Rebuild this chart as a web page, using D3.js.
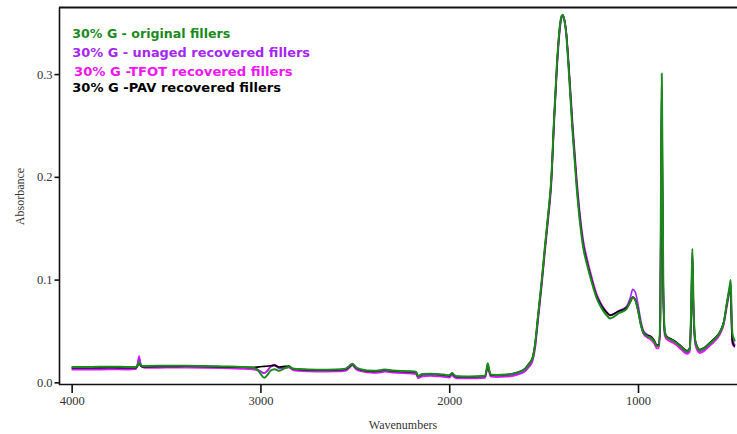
<!DOCTYPE html>
<html>
<head>
<meta charset="utf-8">
<script src="https://cdn.jsdelivr.net/npm/d3@7"></script>
<style>
  html, body { margin: 0; padding: 0; background: #fff; }
  svg { display: block; }
</style>
</head>
<body>
<svg id="chart" width="737" height="434"></svg>
<script>
// FTIR spectra of 30% G filler samples (absorbance vs wavenumber, cm-1)
const wavenumbers = [
  4000, 3900, 3800, 3700, 3660, 3650, 3643, 3636, 3625, 3600,
  3500, 3400, 3300, 3200, 3100, 3050, 3020, 3000, 2980, 2965,
  2945, 2925, 2900, 2870, 2850, 2830, 2800, 2700, 2600, 2550,
  2530, 2513, 2495, 2470, 2400, 2360, 2340, 2300, 2200, 2175,
  2165, 2140, 2100, 2060, 2030, 2000, 1985, 1975, 1960, 1900,
  1850, 1810, 1800, 1796, 1790, 1780, 1750, 1700, 1650, 1600,
  1580, 1560, 1545, 1530, 1510, 1493, 1475, 1460, 1445, 1430,
  1415, 1405, 1398, 1390, 1380, 1368, 1346, 1325, 1310, 1290,
  1269, 1245, 1219, 1200, 1184, 1160, 1148, 1130, 1100, 1080,
  1060, 1040, 1028, 1015, 1000, 985, 970, 950, 935, 915,
  900, 890, 882, 877, 874, 871, 866, 858, 849, 820,
  795, 770, 740, 726, 718, 712, 706, 695, 672, 650,
  620, 600, 566, 545, 530, 515, 509, 505, 500, 492,
  486
];

const originalFillers = [
  .0150, .0150, .0152, .0150, .0150, .0168, .0195, .0172, .0160, .0160,
  .0162, .0162, .0160, .0155, .0150, .0145, .0130, .0085, .0045, .0068,
  .0115, .0128, .0112, .0140, .0150, .0135, .0130, .0123, .0125, .0133,
  .0158, .0182, .0150, .0128, .0112, .0120, .0126, .0115, .0108, .0100,
  .0062, .0082, .0084, .0080, .0076, .0068, .0092, .0074, .0060, .0058,
  .0059, .0064, .0150, .0186, .0138, .0076, .0072, .0076, .0090, .0128,
  .0172, .0228, .0375, .0640, .0990, .1320, .1650, .1960, .2550, .3080,
  .3450, .3565, .3578, .3525, .3385, .3070, .2420, .1900, .1600, .1310,
  .1140, .0975, .0820, .0745, .0695, .0640, .0622, .0635, .0675, .0690,
  .0715, .0785, .0825, .0800, .0700, .0560, .0475, .0448, .0438, .0400,
  .0352, .0355, .0650, .2450, .3005, .2300, .0950, .0500, .0442, .0410,
  .0382, .0342, .0300, .0330, .0750, .1300, .0750, .0390, .0312, .0330,
  .0378, .0410, .0488, .0590, .0765, .0930, .0995, .0720, .0480, .0420,
  .0400
];

const unagedRecovered = [
  .0132, .0133, .0135, .0134, .0136, .0180, .0240, .0185, .0150, .0148,
  .0150, .0152, .0150, .0146, .0140, .0136, .0128, .0110, .0088, .0110,
  .0150, .0165, .0135, .0142, .0148, .0128, .0120, .0112, .0113, .0120,
  .0145, .0170, .0138, .0115, .0100, .0106, .0112, .0102, .0094, .0086,
  .0048, .0068, .0070, .0066, .0062, .0054, .0078, .0060, .0046, .0044,
  .0046, .0050, .0130, .0160, .0120, .0062, .0058, .0062, .0076, .0112,
  .0155, .0210, .0350, .0610, .0960, .1290, .1620, .1930, .2520, .3050,
  .3430, .3555, .3568, .3530, .3400, .3110, .2480, .1960, .1660, .1360,
  .1180, .1010, .0850, .0775, .0725, .0672, .0655, .0665, .0700, .0715,
  .0740, .0830, .0905, .0880, .0760, .0600, .0500, .0465, .0452, .0410,
  .0355, .0350, .0600, .2100, .2700, .2000, .0850, .0480, .0440, .0408,
  .0380, .0335, .0290, .0318, .0700, .1250, .0700, .0375, .0300, .0318,
  .0368, .0402, .0478, .0580, .0745, .0900, .0960, .0700, .0430, .0380,
  .0360
];

const tfotRecovered = [
  .0125, .0124, .0126, .0125, .0128, .0185, .0255, .0190, .0148, .0140,
  .0143, .0144, .0142, .0138, .0132, .0128, .0120, .0105, .0090, .0112,
  .0158, .0172, .0140, .0140, .0145, .0122, .0112, .0104, .0106, .0112,
  .0138, .0165, .0130, .0108, .0092, .0098, .0104, .0094, .0086, .0078,
  .0040, .0058, .0062, .0058, .0054, .0046, .0070, .0052, .0040, .0038,
  .0040, .0044, .0125, .0158, .0115, .0055, .0052, .0055, .0068, .0105,
  .0145, .0200, .0335, .0595, .0945, .1275, .1600, .1910, .2500, .3030,
  .3410, .3545, .3560, .3525, .3405, .3120, .2500, .1985, .1680, .1380,
  .1195, .1020, .0858, .0780, .0728, .0672, .0652, .0660, .0692, .0705,
  .0725, .0790, .0830, .0810, .0710, .0565, .0470, .0435, .0420, .0380,
  .0330, .0330, .0550, .1900, .2400, .1800, .0800, .0455, .0420, .0390,
  .0360, .0318, .0275, .0300, .0650, .1180, .0650, .0355, .0285, .0305,
  .0355, .0390, .0468, .0570, .0730, .0880, .0930, .0650, .0380, .0350,
  .0345
];

const pavRecovered = [
  .0142, .0142, .0144, .0142, .0143, .0160, .0190, .0165, .0152, .0152,
  .0155, .0156, .0154, .0150, .0147, .0146, .0148, .0152, .0155, .0158,
  .0162, .0165, .0150, .0155, .0158, .0135, .0126, .0118, .0120, .0128,
  .0152, .0176, .0145, .0122, .0106, .0116, .0122, .0110, .0103, .0096,
  .0060, .0078, .0082, .0077, .0072, .0064, .0088, .0070, .0056, .0055,
  .0057, .0062, .0140, .0178, .0132, .0072, .0070, .0074, .0090, .0132,
  .0178, .0234, .0380, .0640, .0985, .1315, .1645, .1955, .2545, .3075,
  .3445, .3560, .3572, .3528, .3395, .3090, .2450, .1930, .1630, .1335,
  .1160, .0992, .0838, .0765, .0718, .0668, .0652, .0665, .0695, .0705,
  .0728, .0790, .0830, .0805, .0705, .0565, .0480, .0455, .0448, .0410,
  .0362, .0365, .0620, .2300, .2850, .2150, .0900, .0490, .0450, .0418,
  .0390, .0350, .0308, .0335, .0720, .1270, .0720, .0395, .0320, .0338,
  .0385, .0418, .0495, .0595, .0760, .0910, .0950, .0600, .0400, .0360,
  .0350
];

const seriesNames = [
  "30% G - original fillers",
  "30% G - unaged recovered fillers",
  "30% G -TFOT recovered fillers",
  "30% G -PAV recovered fillers"
];
const seriesColors = ["#1b8a1b", "#a626f2", "#f214f2", "#000000"];

const xTicks = [4000, 3000, 2000, 1000];
const yTicks = [0.0, 0.1, 0.2, 0.3];

const svg = d3.select("#chart");

const x = d3.scaleLinear().domain([4067, 475.6]).range([59, 737]);
const y = d3.scaleLinear().domain([-0.0021, 0.3648]).range([384.5, 7.5]);

const series = [originalFillers, unagedRecovered, tfotRecovered, pavRecovered];

// spectra: TFOT and unaged beneath, PAV then original on top
const line = d3.line()
  .x((d, i) => x(wavenumbers[i]))
  .y(d => y(d))
  .curve(d3.curveMonotoneX);

const drawOrder = [2, 1, 3, 0];
const widths = [2, 1.6, 1.8, 1.6];
drawOrder.forEach(k => {
  svg.append("path")
    .datum(series[k])
    .attr("d", line)
    .attr("fill", "none")
    .attr("stroke", seriesColors[k])
    .attr("stroke-width", widths[k])
    .attr("stroke-linejoin", "round");
});

// frame: top rule, left and bottom axes
svg.append("line").attr("x1", 59).attr("x2", 737).attr("y1", 7.5).attr("y2", 7.5)
  .attr("stroke", "#111").attr("stroke-width", 1.8);

const axisFont = "'Liberation Serif', 'Times New Roman', serif";

const yAxis = d3.axisLeft(y).tickValues(yTicks).tickFormat(d3.format(".1f"))
  .tickSizeInner(5).tickSizeOuter(0).tickPadding(2);
const gy = svg.append("g").attr("transform", "translate(59.5,0)").call(yAxis);
gy.select(".domain").attr("stroke", "#111").attr("stroke-width", 1.6)
  .attr("d", `M0,${7.5}V${385}`);
gy.selectAll(".tick line").attr("stroke", "#111").attr("stroke-width", 1.6);
gy.selectAll(".tick text").attr("font-family", axisFont).attr("font-size", 12.5)
  .attr("fill", "#333");

const xAxis = d3.axisBottom(x).tickValues(xTicks).tickFormat(d3.format("d"))
  .tickSizeInner(8.5).tickSizeOuter(0).tickPadding(3);
const gx = svg.append("g").attr("transform", "translate(0,384.5)").call(xAxis);
gx.select(".domain").attr("stroke", "#111").attr("stroke-width", 1.6)
  .attr("d", `M59,0H737`);
gx.selectAll(".tick line").attr("stroke", "#111").attr("stroke-width", 1.6);
gx.selectAll(".tick text").attr("font-family", axisFont).attr("font-size", 12.5)
  .attr("fill", "#333");

// axis titles
svg.append("text").attr("x", 403).attr("y", 429)
  .attr("text-anchor", "middle").attr("font-family", axisFont).attr("font-size", 12)
  .attr("fill", "#333").text("Wavenumbers");
svg.append("text").attr("transform", "translate(23.5,196.5) rotate(-90)")
  .attr("text-anchor", "middle").attr("font-family", axisFont).attr("font-size", 12)
  .attr("fill", "#333").text("Absorbance");

// legend
const legendX = [72.3, 72.3, 74, 72.3];
const legendY = [38.3, 57.3, 76.3, 91.7];
const legendW = [158, 237.7, 218.7, 208.7];
seriesNames.forEach((name, i) => {
  svg.append("text")
    .attr("x", legendX[i]).attr("y", legendY[i])
    .attr("font-family", "'DejaVu Sans', Verdana, sans-serif")
    .attr("font-weight", "bold").attr("font-size", 12.6)
    .attr("textLength", legendW[i]).attr("lengthAdjust", "spacingAndGlyphs")
    .attr("fill", seriesColors[i]).text(name);
});
</script>
</body>
</html>
